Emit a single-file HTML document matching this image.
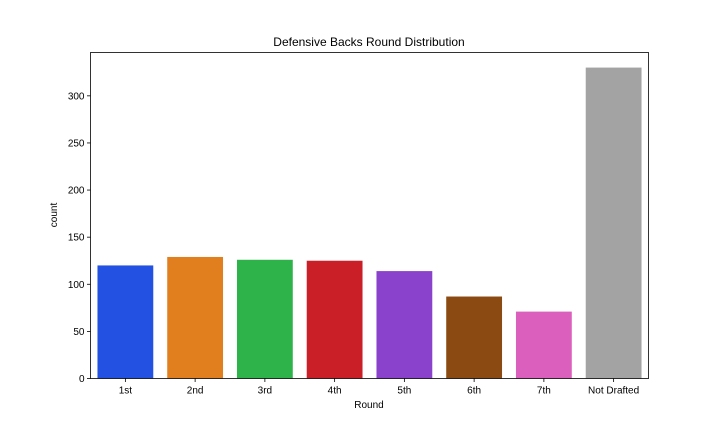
<!DOCTYPE html>
<html><head><meta charset="utf-8"><style>
body{margin:0;background:#fff;}
svg{display:block;font-family:"Liberation Sans","DejaVu Sans",sans-serif;}
</style></head><body>
<svg id="chart" width="720" height="432" viewBox="0 0 720 432" xmlns="http://www.w3.org/2000/svg">
<rect width="720" height="432" fill="#fff"/>
<text x="369" y="46" text-anchor="middle" font-size="12">Defensive Backs Round Distribution</text>
<g id="bars"></g>
<g id="xticks"></g>
<g id="yticks"></g>
<rect x="90.5" y="52.5" width="558" height="326" fill="none" stroke="#000" stroke-width="0.8"/>
<text x="369" y="408" text-anchor="middle" font-size="10">Round</text>
<text transform="translate(57,215) rotate(-90)" text-anchor="middle" font-size="10">count</text>
</svg>
<script>
const categories = ["1st","2nd","3rd","4th","5th","6th","7th","Not Drafted"];
const counts = [120,129,126,125,114,87,71,330];
const colors = ["#2351e2","#e17f1f","#2db34a","#cb1f28","#8a41cc","#8b4a12","#db5fbc","#a3a3a3"];
const yTicks = [0,50,100,150,200,250,300];

const NS="http://www.w3.org/2000/svg";
const plotL=90.5,plotR=648.5,plotT=52.5,plotB=378.5;
const yMax=346;
function y(v){return plotB-(v/yMax)*(plotB-plotT);}
const band=(plotR-plotL)/categories.length;
function xc(i){return plotL+band*(i+0.5);}
const bars=document.getElementById('bars'),xt=document.getElementById('xticks'),yt=document.getElementById('yticks');
categories.forEach((c,i)=>{
  const r=document.createElementNS(NS,'rect');
  const w=band*0.8;
  r.setAttribute('x',xc(i)-w/2);r.setAttribute('width',w);
  r.setAttribute('y',y(counts[i]));r.setAttribute('height',plotB-y(counts[i]));
  r.setAttribute('fill',colors[i]);
  
  
  bars.appendChild(r);
  const l=document.createElementNS(NS,'line');
  l.setAttribute('x1',xc(i));l.setAttribute('x2',xc(i));l.setAttribute('y1',plotB);l.setAttribute('y2',plotB+3.5);l.setAttribute('stroke','#000');l.setAttribute('stroke-width','0.8');
  xt.appendChild(l);
  const t=document.createElementNS(NS,'text');
  t.setAttribute('x',xc(i));t.setAttribute('y',plotB+15);t.setAttribute('text-anchor','middle');t.setAttribute('font-size','10');
  t.textContent=c;
  
  
  xt.appendChild(t);
});
yTicks.forEach(v=>{
  const l=document.createElementNS(NS,'line');
  l.setAttribute('x1',plotL-3.5);l.setAttribute('x2',plotL);l.setAttribute('y1',y(v));l.setAttribute('y2',y(v));l.setAttribute('stroke','#000');l.setAttribute('stroke-width','0.8');
  yt.appendChild(l);
  const t=document.createElementNS(NS,'text');
  t.setAttribute('x',plotL-6);t.setAttribute('y',y(v)+3.5);t.setAttribute('text-anchor','end');t.setAttribute('font-size','10');
  t.textContent=v;
  
  
  yt.appendChild(t);
});
</script>
</body></html>
